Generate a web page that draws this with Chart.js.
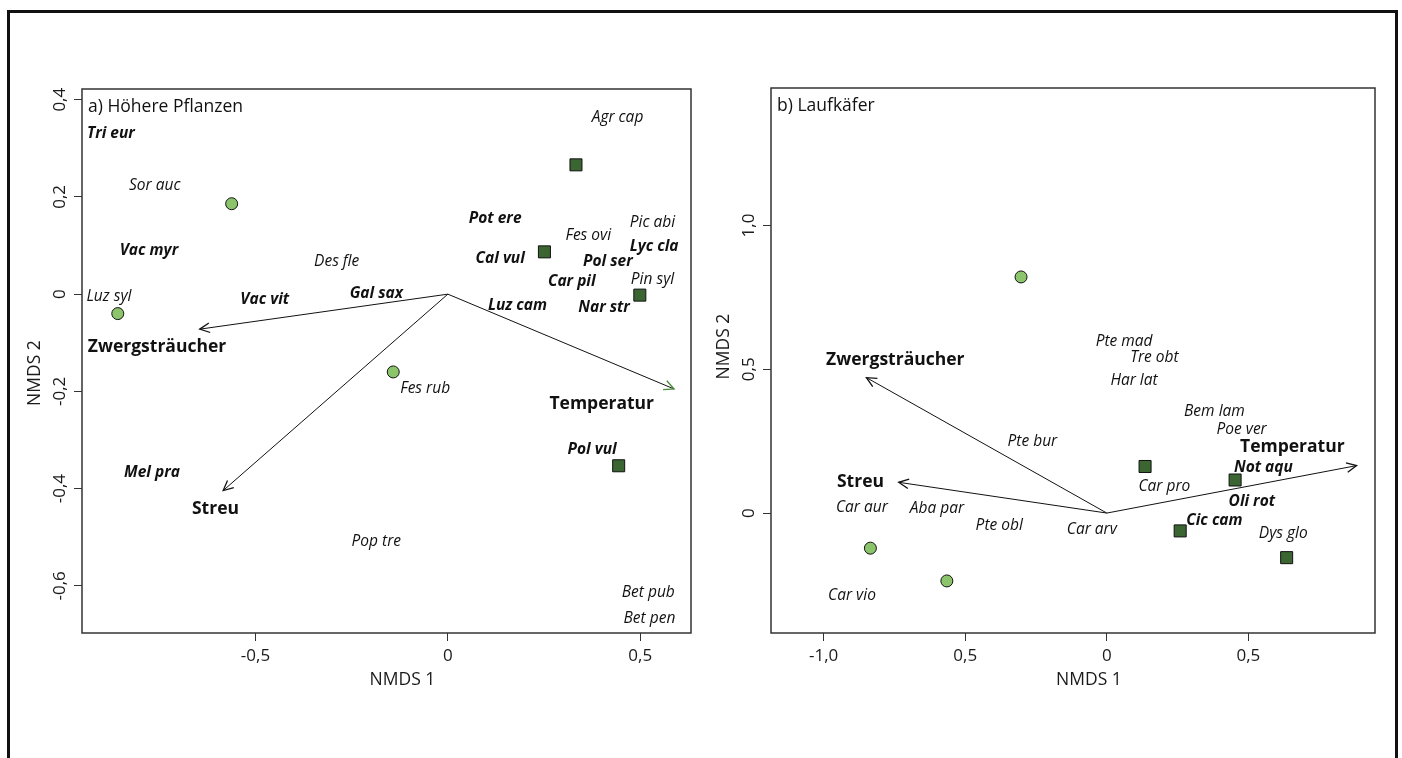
<!DOCTYPE html>
<html>
<head>
<meta charset="utf-8">
<script src="https://cdn.jsdelivr.net/npm/chart.js"></script>
<style>
  html, body { margin: 0; padding: 0; background: #fff; overflow: hidden; }
  #wrap { position: relative; width: 1402px; height: 758px; }
  canvas { position: absolute; top: 0; }
  #frame { position: absolute; left: 7px; top: 10px; width: 1391px; height: 800px;
           border: 3px solid #111; box-sizing: border-box; }
</style>
</head>
<body>
<div id="wrap">
  <canvas id="chartA" width="701" height="758" style="left:0"></canvas>
  <canvas id="chartB" width="701" height="758" style="left:701px"></canvas>
  <div id="frame"></div>
</div>
<script>
const FONT = '"Open Sans", "Noto Sans", sans-serif';

// a) Höhere Pflanzen
const a_xTicks = [-0.5, 0, 0.5];
const a_xTickLabels = ['-0,5', '0', '0,5'];
const a_yTicks = [-0.6, -0.4, -0.2, 0, 0.2, 0.4];
const a_yTickLabels = ['-0,6', '-0,4', '-0,2', '0', '0,2', '0,4'];
const a_lightX = [-0.562, -0.858, -0.142];
const a_lightY = [0.186, -0.040, -0.160];
const a_darkX = [0.333, 0.251, 0.499, 0.444];
const a_darkY = [0.266, 0.087, -0.002, -0.353];
const a_species = ['Tri eur', 'Sor auc', 'Vac myr', 'Des fle', 'Gal sax', 'Luz syl', 'Vac vit', 'Agr cap',
  'Pot ere', 'Fes ovi', 'Pic abi', 'Lyc cla', 'Cal vul', 'Pol ser', 'Car pil', 'Pin syl', 'Luz cam',
  'Nar str', 'Fes rub', 'Pol vul', 'Mel pra', 'Pop tre', 'Bet pub', 'Bet pen'];
const a_speciesX = [-0.876, -0.762, -0.777, -0.289, -0.186, -0.881, -0.476, 0.441, 0.123, 0.365, 0.532,
  0.536, 0.136, 0.416, 0.322, 0.532, 0.181, 0.406, -0.059, 0.375, -0.769, -0.186, 0.521, 0.524];
const a_speciesY = [0.330, 0.224, 0.090, 0.066, 0.002, -0.005, -0.011, 0.364, 0.155, 0.120, 0.148,
  0.098, 0.073, 0.068, 0.025, 0.031, -0.024, -0.028, -0.195, -0.320, -0.367, -0.508, -0.614, -0.668];
const a_speciesBold = [1, 0, 1, 0, 1, 0, 1, 0, 1, 0, 0, 1, 1, 1, 1, 0, 1, 1, 0, 1, 1, 0, 0, 0];
const a_env = ['Zwergsträucher', 'Streu', 'Temperatur'];
const a_envX = [-0.645, -0.584, 0.588];
const a_envY = [-0.072, -0.404, -0.195];
const a_envLabelX = [-0.756, -0.604, 0.400];
const a_envLabelY = [-0.109, -0.442, -0.227];

// b) Laufkäfer
const b_xTicks = [-1.0, -0.5, 0, 0.5];
const b_xTickLabels = ['-1,0', '0,5', '0', '0,5'];
const b_yTicks = [0, 0.5, 1.0];
const b_yTickLabels = ['0', '0,5', '1,0'];
const b_lightX = [-0.303, -0.835, -0.565];
const b_lightY = [0.821, -0.122, -0.236];
const b_darkX = [0.135, 0.453, 0.259, 0.635];
const b_darkY = [0.162, 0.115, -0.062, -0.155];
const b_species = ['Pte mad', 'Tre obt', 'Har lat', 'Bem lam', 'Poe ver', 'Not aqu', 'Car pro', 'Oli rot',
  'Cic cam', 'Car arv', 'Dys glo', 'Pte bur', 'Car aur', 'Aba par', 'Pte obl', 'Car vio'];
const b_speciesX = [0.061, 0.168, 0.096, 0.380, 0.476, 0.553, 0.203, 0.512, 0.380, -0.053, 0.623,
  -0.263, -0.865, -0.600, -0.380, -0.900];
const b_speciesY = [0.598, 0.540, 0.461, 0.353, 0.289, 0.159, 0.093, 0.039, -0.027, -0.056, -0.071,
  0.250, 0.020, 0.014, -0.042, -0.288];
const b_speciesBold = [0, 0, 0, 0, 0, 1, 0, 1, 1, 0, 0, 0, 0, 0, 0, 0];
const b_env = ['Zwergsträucher', 'Streu', 'Temperatur'];
const b_envX = [-0.849, -0.735, 0.882];
const b_envY = [0.471, 0.107, 0.165];
const b_envLabelX = [-0.747, -0.870, 0.655];
const b_envLabelY = [0.533, 0.109, 0.229];

const LIGHT = '#8cc46c';
const DARK = '#3b6632';

function pts(xs, ys) { return xs.map((v, i) => ({ x: v, y: ys[i] })); }

function makeChart(id, p) {
  const datasets = [
    { data: pts(p.lightX, p.lightY), pointStyle: 'circle', pointRadius: 6,
      backgroundColor: LIGHT, borderColor: '#111', borderWidth: 1 },
    { data: pts(p.darkX, p.darkY), pointStyle: 'rect', pointRadius: 8.5,
      backgroundColor: DARK, borderColor: '#111', borderWidth: 1 }
  ];
  p.envX.forEach((ex, i) => {
    datasets.push({ data: [{ x: 0, y: 0 }, { x: ex, y: p.envY[i] }], showLine: true,
      pointRadius: 0, borderColor: '#111', borderWidth: 1 });
  });

  const ordi = {
    id: 'ordi' + id,
    afterDraw(chart) {
      const { ctx, chartArea: a, scales: { x, y } } = chart;
      ctx.save();
      ctx.strokeStyle = '#333';
      ctx.lineWidth = 1.5;
      ctx.strokeRect(a.left, a.top, a.right - a.left, a.bottom - a.top);

      ctx.fillStyle = '#1a1a1a';
      ctx.textAlign = 'center';
      ctx.textBaseline = 'middle';
      ctx.font = '17px ' + FONT;
      p.yTicks.forEach((v, i) => {
        ctx.save();
        ctx.translate(a.left - 22, y.getPixelForValue(v));
        ctx.rotate(-Math.PI / 2);
        ctx.fillText(p.yTickLabels[i], 0, 0);
        ctx.restore();
      });
      ctx.font = '17.5px ' + FONT;
      ctx.fillText('NMDS 1', (a.left + a.right) / 2 + 16, a.bottom + 47);
      ctx.save();
      ctx.translate(a.left - 47, (a.top + a.bottom) / 2 + p.yTitleShift);
      ctx.rotate(-Math.PI / 2);
      ctx.fillText('NMDS 2', 0, 0);
      ctx.restore();

      ctx.fillStyle = '#111';
      ctx.textAlign = 'left';
      ctx.font = '17.5px ' + FONT;
      ctx.fillText(p.title, a.left + 6, a.top + 18);

      // arrow heads
      const x0 = x.getPixelForValue(0), y0 = y.getPixelForValue(0);
      p.envX.forEach((ex, i) => {
        const x2 = x.getPixelForValue(ex), y2 = y.getPixelForValue(p.envY[i]);
        const ang = Math.atan2(y2 - y0, x2 - x0), L = 11, w = Math.PI / 7;
        ctx.strokeStyle = p.headColors[i];
        ctx.lineWidth = 1.3;
        ctx.beginPath();
        ctx.moveTo(x2 - L * Math.cos(ang - w), y2 - L * Math.sin(ang - w));
        ctx.lineTo(x2, y2);
        ctx.lineTo(x2 - L * Math.cos(ang + w), y2 - L * Math.sin(ang + w));
        ctx.stroke();
      });

      ctx.textAlign = 'center';
      ctx.fillStyle = '#111';
      ctx.font = 'bold 17.5px ' + FONT;
      p.env.forEach((t, i) => {
        ctx.fillText(t, x.getPixelForValue(p.envLabelX[i]), y.getPixelForValue(p.envLabelY[i]));
      });
      p.species.forEach((t, i) => {
        ctx.font = (p.speciesBold[i] ? 'italic bold ' : 'italic ') + '15.5px ' + FONT;
        ctx.fillText(t, x.getPixelForValue(p.speciesX[i]), y.getPixelForValue(p.speciesY[i]));
      });
      ctx.restore();
    }
  };

  const grid = { drawOnChartArea: false, drawTicks: true, tickLength: 8, color: '#333', lineWidth: 1 };

  return new Chart(document.getElementById(id), {
    type: 'scatter',
    data: { datasets },
    options: {
      responsive: false,
      animation: false,
      events: [],
      layout: { padding: p.padding },
      plugins: { legend: { display: false }, tooltip: { enabled: false } },
      scales: {
        x: {
          type: 'linear', min: p.xMin, max: p.xMax,
          afterBuildTicks: s => { s.ticks = p.xTicks.map(v => ({ value: v })); },
          afterFit: s => { s.height = 50; },
          grid, border: { display: false },
          ticks: { callback: (v, i) => p.xTickLabels[i], font: { family: FONT, size: 17 },
                   color: '#1a1a1a', padding: 5, maxRotation: 0, autoSkip: false }
        },
        y: {
          type: 'linear', min: p.yMin, max: p.yMax,
          afterBuildTicks: s => { s.ticks = p.yTicks.map(v => ({ value: v })); },
          afterFit: s => { s.width = 50; },
          grid, border: { display: false },
          ticks: { display: false }
        }
      }
    },
    plugins: [ordi]
  });
}

makeChart('chartA', {
  title: 'a) Höhere Pflanzen',
  xMin: -0.951, xMax: 0.632, yMin: -0.697, yMax: 0.422,
  padding: { left: 32, top: 89, right: 10, bottom: 75 },
  yTitleShift: 12,
  xTicks: a_xTicks, xTickLabels: a_xTickLabels, yTicks: a_yTicks, yTickLabels: a_yTickLabels,
  lightX: a_lightX, lightY: a_lightY, darkX: a_darkX, darkY: a_darkY,
  species: a_species, speciesX: a_speciesX, speciesY: a_speciesY, speciesBold: a_speciesBold,
  env: a_env, envX: a_envX, envY: a_envY, envLabelX: a_envLabelX, envLabelY: a_envLabelY,
  headColors: ['#111', '#111', '#4d8a3c']
});

makeChart('chartB', {
  title: 'b) Laufkäfer',
  xMin: -1.186, xMax: 0.947, yMin: -0.417, yMax: 1.478,
  padding: { left: 20, top: 88, right: 27, bottom: 75 },
  yTitleShift: -14,
  xTicks: b_xTicks, xTickLabels: b_xTickLabels, yTicks: b_yTicks, yTickLabels: b_yTickLabels,
  lightX: b_lightX, lightY: b_lightY, darkX: b_darkX, darkY: b_darkY,
  species: b_species, speciesX: b_speciesX, speciesY: b_speciesY, speciesBold: b_speciesBold,
  env: b_env, envX: b_envX, envY: b_envY, envLabelX: b_envLabelX, envLabelY: b_envLabelY,
  headColors: ['#111', '#111', '#111']
});
</script>
</body>
</html>
